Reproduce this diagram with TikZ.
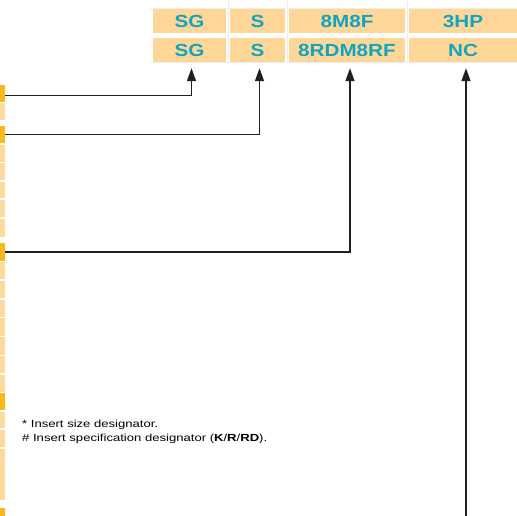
\documentclass[tikz,border=0pt]{standalone}
\usepackage{fontspec}
\setmainfont{Liberation Sans}
\newfontfamily\boxfont[FakeStretch=1.18]{Liberation Sans}
\newfontfamily\notefont[FakeStretch=1.27]{Liberation Sans}
\usetikzlibrary{arrows.meta}
\definecolor{boxfill}{RGB}{253,214,152}
\definecolor{codeteal}{RGB}{18,165,191}
\definecolor{stripdark}{RGB}{251,184,27}
\definecolor{striplight}{RGB}{254,218,154}
\definecolor{pointerink}{RGB}{35,31,32}

\begin{document}
\begin{tikzpicture}[x=1pt, y=-1pt, >={Triangle[length=13pt, width=9pt]},
  code/.style={fill=boxfill, text=codeteal, minimum height=24pt, inner sep=0pt, font=\boxfont\fontsize{17.5}{17.5}\selectfont\bfseries},
  cell/.style={minimum width=5pt, inner sep=0pt, outer sep=0pt},
  pointer/.style={draw=pointerink, line width=1.4pt, ->, shorten >=6pt},
  grid/.style={draw=black!7, line width=0.5pt},
  note/.style={anchor=base west, inner sep=0pt, font=\notefont\fontsize{10.3}{12}\selectfont}]
  \useasboundingbox (0,0) rectangle (517,516);

  % Code table: two rows of four boxes.
  \node[code, minimum width=73pt] (sgtop) at (189.5,21) {SG};
  \node[code, minimum width=55pt] (stop) at (257.5,21) {S};
  \node[code, minimum width=116pt] (contop) at (347,21) {8M8F};
  \node[code, minimum width=108pt] (modtop) at (463,21) {3HP};
  \node[code, minimum width=73pt] (sgbot) at (189.5,50) {SG};
  \node[code, minimum width=55pt] (sbot) at (257.5,50) {S};
  \node[code, minimum width=116pt] (conbot) at (347,50) {8RDM8RF};
  \node[code, minimum width=108pt] (modbot) at (463,50) {NC};

  % Faint table rules.
  \draw[grid] (150,8.5) -- (517,8.5);
  \draw[grid] (150,62.5) -- (517,62.5);
  \draw[grid] (228,0) -- (228,62.5);
  \draw[grid] (287,0) -- (287,62.5);
  \draw[grid] (407,0) -- (407,62.5);

  % Left strip of cells: number/top/bottom/colour.
  \foreach \n/\top/\bot/\col in {1/85/102/stripdark, 2/103/120/striplight,
      3/126/143/stripdark, 4/145/162/striplight, 5/163/180/striplight,
      6/182/198/striplight, 7/200/217/striplight, 8/219/237/striplight,
      9/243/261/stripdark, 10/262/279/striplight, 11/281/298/striplight,
      12/300/317/striplight, 13/318/336/striplight, 14/337/355/striplight,
      15/356/373/striplight, 16/375/392/striplight, 17/393/410/stripdark,
      18/412/428/striplight, 19/430/447/striplight, 20/449/500/striplight,
      21/508/516/stripdark}
    \node[cell, fill=\col, minimum height={(\bot-\top)*1pt}] (s\n) at (2.5,{(\top+\bot)/2}) {};

  % Pointers from the strip up to the codes.
  \coordinate (foot) at (466,516);
  \draw[pointer] ([yshift=-2pt]s1.east) -| ([xshift=2pt]sgbot.south);
  \draw[pointer] (s3.east) -| ([xshift=2pt]sbot.south);
  \draw[pointer] (s9.east) -| ([xshift=3pt]conbot.south);
  \draw[pointer] (foot) -- (foot |- modbot.south);

  % Footnotes.
  \node[note] (size) at (22,427) {* Insert size designator.};
  \node[note] (spec) at (22,441) {\# Insert specification designator (\textbf{K}/\textbf{R}/\textbf{RD}).};
\end{tikzpicture}
\end{document}
